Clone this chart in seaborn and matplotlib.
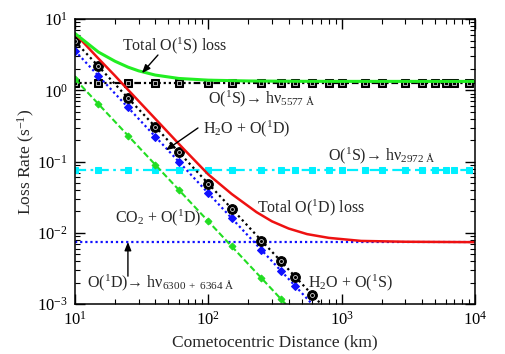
import numpy as np
import pandas as pd
import seaborn as sns
import matplotlib
matplotlib.use("Agg")
import matplotlib.pyplot as plt

# marker grid (km) shared by the radiative lines
rad_r = [10, 15, 25, 40, 60, 100, 150, 250, 350, 450, 600, 800, 1000, 1500,
         2000, 3000, 4000, 5000, 6000, 7000, 9000, 10000]
o1s_5577 = [1.26] * len(rad_r)
o1s_2972 = [0.076] * len(rad_r)
o1d_6300 = [0.0074] * len(rad_r)

# quenching by H2O of O(1S)
h2o_1s_r = [10, 15, 25, 40, 60, 100, 150, 250, 350, 450, 600, 1000]
h2o_1s = [4.9, 2.18, 0.78, 0.31, 0.136, 0.049, 0.0218, 0.0078, 0.0040,
          0.0024, 0.00136, 0.00049]

# quenching by H2O of O(1D)
h2o_1d_r = [10, 15, 25, 40, 60, 100, 150, 250, 350, 450, 1000]
h2o_1d = [3.6, 1.6, 0.576, 0.225, 0.1, 0.036, 0.016, 0.00576, 0.00294,
          0.00178, 0.00036]

# quenching by CO2 of O(1D)
co2_1d_r = [10, 15, 25, 40, 60, 100, 150, 250, 350, 1000]
co2_1d = [1.45, 0.644, 0.232, 0.0906, 0.0403, 0.0145, 0.00644, 0.00232,
          0.00118, 0.000145]

# totals
tot_1s_r = [10, 15, 20, 25, 30, 40, 60, 100, 200, 500, 1000, 10000]
tot_1s = [6.3, 3.45, 2.56, 2.12, 1.88, 1.64, 1.47, 1.39, 1.355, 1.34, 1.337,
          1.336]
tot_1d_r = [10, 15, 20, 25, 40, 65, 100, 150, 230, 300, 400, 550, 800, 1400,
            3000, 10000]
tot_1d = [6.3, 2.8, 1.6, 1.02, 0.40, 0.152, 0.066, 0.035, 0.0195, 0.0145,
          0.0115, 0.0096, 0.0085, 0.0077, 0.0075, 0.0074]

sns.set_style("ticks")
plt.rcParams.update({
    "font.family": ["Liberation Serif", "DejaVu Serif"],
    "mathtext.fontset": "custom",
    "mathtext.rm": "Liberation Serif",
    "mathtext.it": "Liberation Serif:italic",
    "mathtext.default": "regular",
})

fig, ax = plt.subplots(figsize=(5.06, 3.54), dpi=100)
fig.subplots_adjust(left=0.148, right=0.939, top=0.946, bottom=0.141)

common = dict(ax=ax, sort=False, estimator=None, legend=False)
skip_last = slice(0, -1)

sns.lineplot(x=rad_r, y=o1d_6300, color="#1010ff", lw=1.6,
             linestyle=(0, (1, 1.3)), **common)
sns.lineplot(x=rad_r, y=o1s_2972, color="#00f0ff", lw=1.6,
             linestyle=(0, (5, 2, 1.2, 2)), marker="s", ms=5, mec="#00f0ff",
             markevery=skip_last, **common)
sns.lineplot(x=rad_r, y=o1s_5577, color="black", lw=1.6,
             linestyle=(0, (3, 1.3, 1, 1.3, 1, 1.3)), marker="s", ms=6,
             mec="black", markevery=skip_last, **common)
ax.plot(rad_r[:-1], o1s_5577[:-1], ls="none", marker="s", ms=2.6, mfc="none",
        mec="white", mew=0.5)
sns.lineplot(x=co2_1d_r, y=co2_1d, color="#22dd22", lw=1.5,
             linestyle=(0, (3, 1.4)), marker="D", ms=3.5, mec="#22dd22",
             markevery=skip_last, **common)
sns.lineplot(x=h2o_1d_r, y=h2o_1d, color="#1010ff", lw=1.6,
             linestyle=(0, (1, 1.3)), marker="D", ms=4.5, mec="#1010ff",
             markevery=skip_last, **common)
sns.lineplot(x=h2o_1s_r, y=h2o_1s, color="black", lw=1.6,
             linestyle=(0, (1, 1.5)), marker="o", ms=7, mec="black",
             markevery=skip_last, **common)
ax.plot(h2o_1s_r[:-1], h2o_1s[:-1], ls="none", marker="o", ms=2.8,
        mfc="none", mec="white", mew=0.5)
sns.lineplot(x=tot_1d_r, y=tot_1d, color="#ee1111", lw=1.8, **common)
sns.lineplot(x=tot_1s_r, y=tot_1s, color="#22ee22", lw=2.2, **common)

ax.set_xscale("log")
ax.set_yscale("log")
ax.set_xlim(10, 1e4)
ax.set_ylim(1e-3, 10)

ax.tick_params(which="both", direction="in", top=True, right=True,
               labelsize=12, colors="black")
ax.tick_params(which="major", length=7, width=1, pad=5)
ax.tick_params(which="minor", length=3.5, width=0.8)
for s in ax.spines.values():
    s.set_color("black")
    s.set_linewidth(1.1)

ax.set_xlabel("Cometocentric Distance (km)", fontsize=12.5, labelpad=4)
ax.set_ylabel("Loss Rate (s$^{-1}$)", fontsize=12.5)
ax.yaxis.set_label_coords(-0.095, 0.5)

fs = 11.5
tk = dict(transform=ax.transAxes, fontsize=fs, va="baseline", ha="left")
ax.text(0.1175, 0.891, "Total O($^{1}$S) loss", **tk)
ax.text(0.3325, 0.705, "O($^{1}$S)\u2192 h\u03bd$_{5577\\ \u00c5}$", **tk)
ax.text(0.32, 0.60, "H$_{2}$O + O($^{1}$D)", **tk)
ax.text(0.6325, 0.505, "O($^{1}$S)\u2192 h\u03bd$_{2972\\ \u00c5}$", **tk)
ax.text(0.455, 0.323, "Total O($^{1}$D) loss", **tk)
ax.text(0.10, 0.288, "CO$_{2}$ + O($^{1}$D)", **tk)
ax.text(0.03, 0.0596,
        "O($^{1}$D)\u2192 h\u03bd$_{6300\\ +\\ 6364\\ \u00c5}$", **tk)
ax.text(0.5825, 0.0596, "H$_{2}$O + O($^{1}$S)", **tk)

arr = dict(arrowstyle="-|>,head_length=0.5,head_width=0.2", color="black",
           lw=1, shrinkA=0, shrinkB=0)
ax.annotate("", xy=(0.1675, 0.8105), xytext=(0.2075, 0.874),
            xycoords="axes fraction", arrowprops=arr)
ax.annotate("", xy=(0.2275, 0.540), xytext=(0.3075, 0.618),
            xycoords="axes fraction", arrowprops=arr)
ax.annotate("", xy=(0.1325, 0.218), xytext=(0.1325, 0.098),
            xycoords="axes fraction", arrowprops=arr)

fig.savefig("out.png", dpi=100)
